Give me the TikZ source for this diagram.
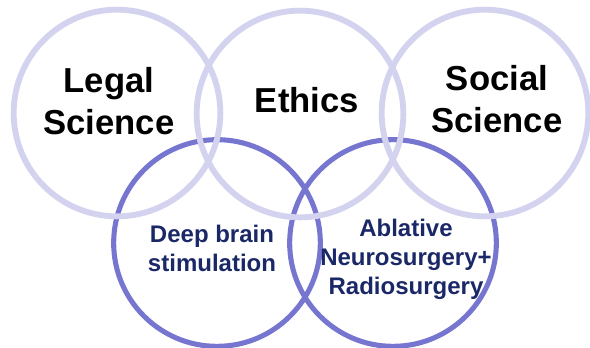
\documentclass[tikz,border=0pt]{standalone}
\usepackage{fontspec}
\setmainfont{Liberation Sans}
\definecolor{ringlight}{RGB}{211, 211, 240}
\definecolor{ringdark}{RGB}{118, 118, 208}
\definecolor{navytext}{RGB}{26, 40, 104}
\usepackage{tikz}
\usetikzlibrary{positioning}

\tikzset{
  ring/.style={circle, minimum size=155pt, inner sep=0pt},
  toplabel/.style={align=center, inner sep=0pt, font=\fontsize{26}{31.5}\selectfont\bfseries},
  lowlabel/.style={align=center, inner sep=0pt, text=navytext, font=\fontsize{18}{21.8}\selectfont\bfseries}
}

\begin{document}
\begin{tikzpicture}[x=0.75pt, y=-0.75pt]
  \useasboundingbox (0,0) rectangle (590,347);
  % treatment circles (drawn first, lighter rings overlap them)
  \node[ring, draw=ringdark, line width=3.8pt] (dbs) at (217,243) {};
  \node[ring, draw=ringdark, line width=3.8pt] (ablative) at (393,243) {};
  % discipline circles
  \node[ring, draw=ringlight, line width=4.4pt] (legal) at (117,113) {};
  \node[ring, draw=ringlight, line width=4.4pt] (ethics) at (300,114) {};
  \node[ring, draw=ringlight, line width=4.4pt] (social) at (485,113) {};

  \node[toplabel] (legaltext) at (109,101) {Legal\\Science};
  \node[toplabel] (ethicstext) at (307,100) {Ethics};
  \node[toplabel] (socialtext) at (497,99) {Social\\Science};
  \node[lowlabel] (dbstext) at (212,248) {Deep brain\\stimulation};
  \node[lowlabel] (ablativetext) at (406,259) {Ablative\\Neurosurgery+\\Radiosurgery};
\end{tikzpicture}
\end{document}
